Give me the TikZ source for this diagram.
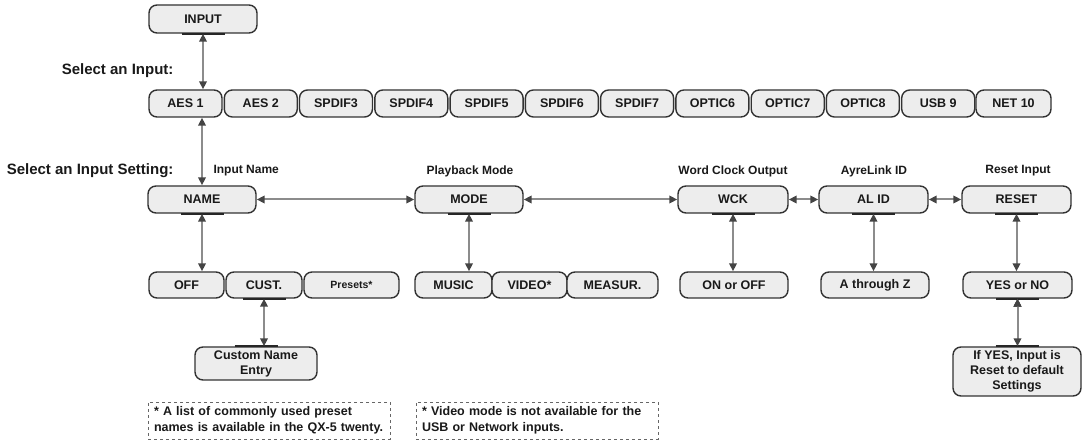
\documentclass[tikz,border=0pt]{standalone}
\usepackage{fontspec}
\setmainfont{Liberation Sans}
\usetikzlibrary{arrows.meta}
\definecolor{boxfill}{RGB}{237,237,237}
\definecolor{boxline}{RGB}{50,50,50}
\definecolor{linkgray}{RGB}{140,140,140}
\definecolor{tipgray}{RGB}{68,68,68}

\begin{document}
\begin{tikzpicture}[x=1pt,y=-1pt,
  menu node/.style={draw=boxline,fill=boxfill,rounded corners=8pt,line width=1.4pt,inner sep=0pt,text=black!90,font=\bfseries\fontsize{12.5}{15}\selectfont,minimum height=27pt},
  head/.style={anchor=east,text=black!90,font=\bfseries\fontsize{15}{17}\selectfont},
  caption/.style={text=black!90,font=\bfseries\fontsize{12}{14}\selectfont},
  note/.style={draw=black!60,dashed,line width=0.8pt,align=left,inner xsep=6pt,inner ysep=0pt,minimum height=37pt,text width=230pt,text=black!90,font=\bfseries\fontsize{12.5}{16}\selectfont},
  darktab/.style={draw=black!85,line width=2.2pt},
  link/.style={draw=linkgray,line width=2pt,>={Triangle[length=8pt,width=7.5pt,color=tipgray]},<->}]
  \useasboundingbox (0,0) rectangle (1082,443);

  \node[menu node,minimum width=108pt,minimum height=28pt] (input) at (203,19) {INPUT};

  \node[head] (selin) at (177,71) {Select an Input:};
  \node[head] (selset) at (177,171) {Select an Input Setting:};

  % input row
  \node[menu node,minimum width=73pt] (aes1) at (185.5,103.5) {AES 1};
  \node[menu node,minimum width=73pt] (aes2) at (260.8,103.5) {AES 2};
  \node[menu node,minimum width=73pt] (spdif3) at (336.0,103.5) {SPDIF3};
  \node[menu node,minimum width=73pt] (spdif4) at (411.3,103.5) {SPDIF4};
  \node[menu node,minimum width=73pt] (spdif5) at (486.6,103.5) {SPDIF5};
  \node[menu node,minimum width=73pt] (spdif6) at (561.9,103.5) {SPDIF6};
  \node[menu node,minimum width=73pt] (spdif7) at (637.1,103.5) {SPDIF7};
  \node[menu node,minimum width=73pt] (optic6) at (712.4,103.5) {OPTIC6};
  \node[menu node,minimum width=73pt] (optic7) at (787.7,103.5) {OPTIC7};
  \node[menu node,minimum width=73pt] (optic8) at (862.9,103.5) {OPTIC8};
  \node[menu node,minimum width=73pt] (usb9) at (938.2,103.5) {USB 9};
  \node[menu node,minimum width=75pt] (net10) at (1013.5,103.5) {NET 10};

  % settings row
  \node[caption,anchor=west] (capname) at (210,171) {Input Name};
  \node[caption] (capmode) at (470,171) {Playback Mode};
  \node[caption] (capwck) at (733,171) {Word Clock Output};
  \node[caption] (capalid) at (874,171) {AyreLink ID};
  \node[caption] (capreset) at (1018,171) {Reset Input};

  \node[menu node,minimum width=108pt] (name) at (202,199.5) {NAME};
  \node[menu node,minimum width=108pt] (mode) at (469,199.5) {MODE};
  \node[menu node,minimum width=110pt] (wck) at (733,199.5) {WCK};
  \node[menu node,minimum width=109pt] (alid) at (873.5,199.5) {AL ID};
  \node[menu node,minimum width=109pt] (reset) at (1016.5,199.5) {RESET};

  % values row
  \node[menu node,minimum width=75pt,minimum height=26pt] (off) at (186.5,285) {OFF};
  \node[menu node,minimum width=76pt,minimum height=26pt] (cust) at (264,285) {CUST.};
  \node[menu node,minimum width=95pt,minimum height=26pt,font=\bfseries\fontsize{10.5}{12}\selectfont] (presets) at (351.5,285) {Presets*};
  \node[menu node,minimum width=77pt,minimum height=26pt] (music) at (453.5,285) {MUSIC};
  \node[menu node,minimum width=75pt,minimum height=26pt] (video) at (529.5,285) {VIDEO*};
  \node[menu node,minimum width=91pt,minimum height=26pt] (measur) at (612.5,285) {MEASUR.};
  \node[menu node,minimum width=108pt,minimum height=26pt] (onoff) at (734,285) {ON or OFF};
  \node[menu node,minimum width=108pt,minimum height=26pt] (atoz) at (875,285) {A through Z};
  \node[menu node,minimum width=109pt,minimum height=26pt] (yesno) at (1017.5,285) {YES or NO};

  \node[menu node,minimum width=122pt,minimum height=33pt,align=center] (custentry) at (256,363.5) {Custom Name\\Entry};
  \node[menu node,minimum width=128pt,minimum height=49pt,align=center] (ifyes) at (1017,371.5) {If YES, Input is\\Reset to default\\Settings};

  % notes
  \node[note] (notepre) at (269,420.5) {* A list of commonly used preset\\names is available in the QX-5 twenty.};
  \node[note] (notevid) at (537,420.5) {* Video mode is not available for the\\USB or Network inputs.};

  \foreach \n in {input,name,mode,wck,alid,reset,cust,yesno}
    \draw[darktab] ([xshift=-21.5pt]\n.south) -- ([xshift=21.5pt]\n.south);
  \foreach \n in {custentry,ifyes}
    \draw[darktab] ([xshift=-21.5pt]\n.north) -- ([xshift=21.5pt]\n.north);

\path[link]
  (input.south) edge (input.south |- aes1.north)
  (name.north |- aes1.south) edge (name.north)
  (name.east) edge (mode.west)
  (mode.east) edge (wck.west)
  (wck.east) edge (alid.west)
  (alid.east) edge (reset.west)
  (name.south) edge (name.south |- off.north)
  (cust.south) edge (cust.south |- custentry.north)
  (mode.south) edge (mode.south |- music.north)
  (wck.south) edge (wck.south |- onoff.north)
  (alid.south) edge (alid.south |- atoz.north)
  (reset.south) edge (reset.south |- yesno.north)
  (yesno.south) edge (yesno.south |- ifyes.north)
;
\end{tikzpicture}
\end{document}
